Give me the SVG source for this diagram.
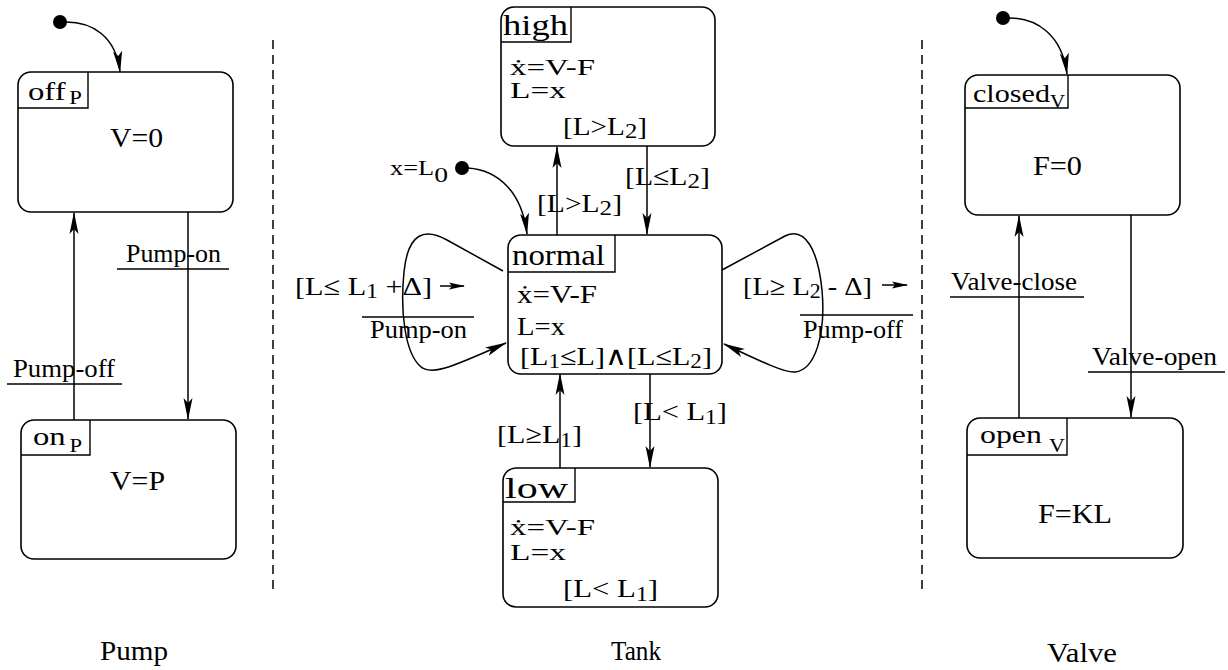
<svg xmlns="http://www.w3.org/2000/svg" width="1228" height="670" viewBox="0 0 1228 670">
<style>
text{font-family:"Liberation Serif","DejaVu Serif",serif;fill:#000}
.box{fill:none;stroke:#000;stroke-width:1.6}
.lbl{fill:none;stroke:#000;stroke-width:1.4}
.ln{fill:none;stroke:#000;stroke-width:1.5}
.arr{fill:none;stroke:#000;stroke-width:1.5;marker-end:url(#ah)}
.dash{fill:none;stroke:#000;stroke-width:1.5;stroke-dasharray:9 6}
.t{font-size:26px}
.b{font-size:23px}
.n{font-size:30px}
.s{font-size:18px}
</style>
<defs>
<marker id="ah" markerUnits="userSpaceOnUse" markerWidth="22" markerHeight="10" refX="21" refY="5" orient="auto">
<path d="M0,0.5 L22,5 L0,9.5 L5,5 z" fill="#000"/>
</marker>
<marker id="sa" markerUnits="userSpaceOnUse" markerWidth="16" markerHeight="8" refX="15" refY="4" orient="auto">
<path d="M0,0.5 L16,4 L0,7.5 L3,4 z" fill="#000"/>
</marker>
</defs>

<g id="dividers">
<line class="dash" x1="273" y1="40" x2="273" y2="593"/>
<line class="dash" x1="922" y1="40" x2="922" y2="593"/>
</g>

<g id="pump-off">
<rect class="box" x="18" y="72" width="215" height="140" rx="13"/>
<path class="lbl" d="M18,108 H88 V72"/>
<text class="t" x="28" y="100" textLength="54" lengthAdjust="spacingAndGlyphs">off<tspan class="s" dy="4" dx="3">P</tspan></text>
<text x="110" y="147" font-size="28" textLength="53" lengthAdjust="spacingAndGlyphs">V=0</text>
</g>

<g id="pump-on">
<rect class="box" x="21" y="420" width="215" height="139" rx="13"/>
<path class="lbl" d="M21,455 H90 V420"/>
<text class="t" x="33" y="445" textLength="49" lengthAdjust="spacingAndGlyphs">on<tspan class="s" dy="7" dx="3">P</tspan></text>
<text x="110" y="490" font-size="28" textLength="55" lengthAdjust="spacingAndGlyphs">V=P</text>
</g>

<g id="tank-high">
<rect class="box" x="501" y="7" width="214" height="139" rx="13"/>
<path class="lbl" d="M501,42 H571 V7"/>
<text class="n" x="503" y="35" textLength="65" lengthAdjust="spacingAndGlyphs">high</text>
<text class="b" x="510" y="75" textLength="85" lengthAdjust="spacingAndGlyphs">ẋ=V-F</text>
<text class="b" x="510" y="98" textLength="56" lengthAdjust="spacingAndGlyphs">L=x</text>
<text class="t" x="563" y="135" textLength="84" lengthAdjust="spacingAndGlyphs">[L&gt;L<tspan dy="3" font-size="22">2</tspan><tspan dy="-3">]</tspan></text>
</g>

<g id="tank-normal">
<rect class="box" x="508" y="235" width="214" height="139" rx="13"/>
<path class="lbl" d="M508,272 H615 V235"/>
<text class="n" x="512" y="265" textLength="93" lengthAdjust="spacingAndGlyphs">normal</text>
<text class="t" x="517" y="303" textLength="80" lengthAdjust="spacingAndGlyphs">ẋ=V-F</text>
<text class="t" x="517" y="335" textLength="48" lengthAdjust="spacingAndGlyphs">L=x</text>
<text class="t" x="520" y="365" textLength="192" lengthAdjust="spacingAndGlyphs">[L<tspan font-size="20" dy="3">1</tspan><tspan dy="-3">≤L]∧[L≤L</tspan><tspan font-size="20" dy="3">2</tspan><tspan dy="-3">]</tspan></text>
</g>

<g id="tank-low">
<rect class="box" x="503" y="468" width="215" height="139" rx="13"/>
<path class="lbl" d="M503,502 H575 V468"/>
<text class="n" x="505" y="498" textLength="63" lengthAdjust="spacingAndGlyphs">low</text>
<text class="b" x="510" y="535" textLength="85" lengthAdjust="spacingAndGlyphs">ẋ=V-F</text>
<text class="b" x="510" y="560" textLength="56" lengthAdjust="spacingAndGlyphs">L=x</text>
<text class="t" x="563" y="597" textLength="95" lengthAdjust="spacingAndGlyphs">[L&lt; L<tspan font-size="20" dy="4">1</tspan><tspan dy="-4">]</tspan></text>
</g>

<g id="valve-closed">
<rect class="box" x="965" y="75" width="215" height="140" rx="13"/>
<path class="lbl" d="M965,108 H1068 V75"/>
<text class="t" x="973" y="102" textLength="92" lengthAdjust="spacingAndGlyphs">closed<tspan class="s" dy="6">V</tspan></text>
<text x="1033" y="175" font-size="28" textLength="49" lengthAdjust="spacingAndGlyphs">F=0</text>
</g>

<g id="valve-open">
<rect class="box" x="967" y="418" width="216" height="140" rx="13"/>
<path class="lbl" d="M967,455 H1067 V418"/>
<text class="t" x="980" y="443" textLength="85" lengthAdjust="spacingAndGlyphs">open<tspan class="s" dy="9" dx="6">V</tspan></text>
<text x="1038" y="523" font-size="28" textLength="74" lengthAdjust="spacingAndGlyphs">F=KL</text>
</g>

<g id="connectors">
<circle cx="60" cy="22" r="7"/>
<path class="arr" d="M66,22 C92,22 116,36 120,72"/>
<line class="arr" x1="74" y1="420" x2="74" y2="213"/>
<line class="arr" x1="188" y1="212" x2="188" y2="419"/>
<circle cx="462" cy="168" r="7"/>
<path class="arr" d="M468,168 C498,170 522,192 527,234"/>
<line class="arr" x1="557" y1="235" x2="557" y2="147"/>
<line class="arr" x1="647" y1="146" x2="647" y2="234"/>
<line class="arr" x1="560" y1="468" x2="560" y2="374"/>
<line class="arr" x1="650" y1="374" x2="650" y2="467"/>
<path class="arr" d="M503,271 L447,240 C425,228 408,232 404,272 C400,312 405,352 420,366 C430,376 448,369 506,343"/>
<path class="arr" d="M722,270 L785,236 C805,226 818,250 822,290 C826,335 815,370 795,372 C785,373 762,362 724,344"/>
<line class="ln" x1="440" y1="286" x2="464" y2="286" marker-end="url(#sa)"/>
<line class="ln" x1="882" y1="285" x2="907" y2="285" marker-end="url(#sa)"/>
<circle cx="1003" cy="18" r="7"/>
<path class="arr" d="M1009,18 C1036,18 1062,34 1067,74"/>
<line class="arr" x1="1019" y1="418" x2="1019" y2="216"/>
<line class="arr" x1="1131" y1="215" x2="1131" y2="417"/>
</g>

<g id="labels">
<text x="126" y="262" font-size="25" textLength="95" lengthAdjust="spacingAndGlyphs">Pump-on</text>
<line class="ln" x1="117" y1="269" x2="229" y2="269"/>
<text class="t" x="13" y="377" textLength="102" lengthAdjust="spacingAndGlyphs">Pump-off</text>
<line class="ln" x1="7" y1="384" x2="122" y2="384"/>

<text class="t" x="625" y="185" textLength="85" lengthAdjust="spacingAndGlyphs">[L≤L<tspan dy="3" font-size="22">2</tspan><tspan dy="-3">]</tspan></text>
<text class="t" x="537" y="212" textLength="85" lengthAdjust="spacingAndGlyphs">[L&gt;L<tspan dy="3" font-size="22">2</tspan><tspan dy="-3">]</tspan></text>
<text x="390" y="175" font-size="21" textLength="58" lengthAdjust="spacingAndGlyphs">x=L<tspan dy="7" font-size="22">0</tspan></text>

<text class="t" x="295" y="295" textLength="137" lengthAdjust="spacingAndGlyphs">[L≤ L<tspan dy="3" font-size="20">1</tspan><tspan dy="-3"> +Δ]</tspan></text>
<line class="ln" x1="362" y1="317" x2="474" y2="317"/>
<text class="t" x="370" y="338" textLength="97" lengthAdjust="spacingAndGlyphs">Pump-on</text>

<text class="t" x="743" y="295" textLength="129" lengthAdjust="spacingAndGlyphs">[L≥ L<tspan dy="3" font-size="20">2</tspan><tspan dy="-3"> - Δ]</tspan></text>
<line class="ln" x1="800" y1="315" x2="913" y2="315"/>
<text class="t" x="803" y="338" textLength="100" lengthAdjust="spacingAndGlyphs">Pump-off</text>

<text class="t" x="633" y="420" textLength="94" lengthAdjust="spacingAndGlyphs">[L&lt; L<tspan dy="4" font-size="20">1</tspan><tspan dy="-4">]</tspan></text>
<text class="t" x="497" y="443" textLength="85" lengthAdjust="spacingAndGlyphs">[L≥L<tspan dy="4" font-size="20">1</tspan><tspan dy="-4">]</tspan></text>

<text class="t" x="951" y="290" textLength="126" lengthAdjust="spacingAndGlyphs">Valve-close</text>
<line class="ln" x1="950" y1="297" x2="1084" y2="297"/>
<text class="t" x="1092" y="365" textLength="125" lengthAdjust="spacingAndGlyphs">Valve-open</text>
<line class="ln" x1="1088" y1="372" x2="1225" y2="372"/>

<text x="100" y="660" font-size="27" textLength="68" lengthAdjust="spacingAndGlyphs">Pump</text>
<text x="611" y="660" font-size="27" textLength="50" lengthAdjust="spacingAndGlyphs">Tank</text>
<text x="1047" y="662" font-size="27" textLength="70" lengthAdjust="spacingAndGlyphs">Valve</text>
</g>
</svg>
